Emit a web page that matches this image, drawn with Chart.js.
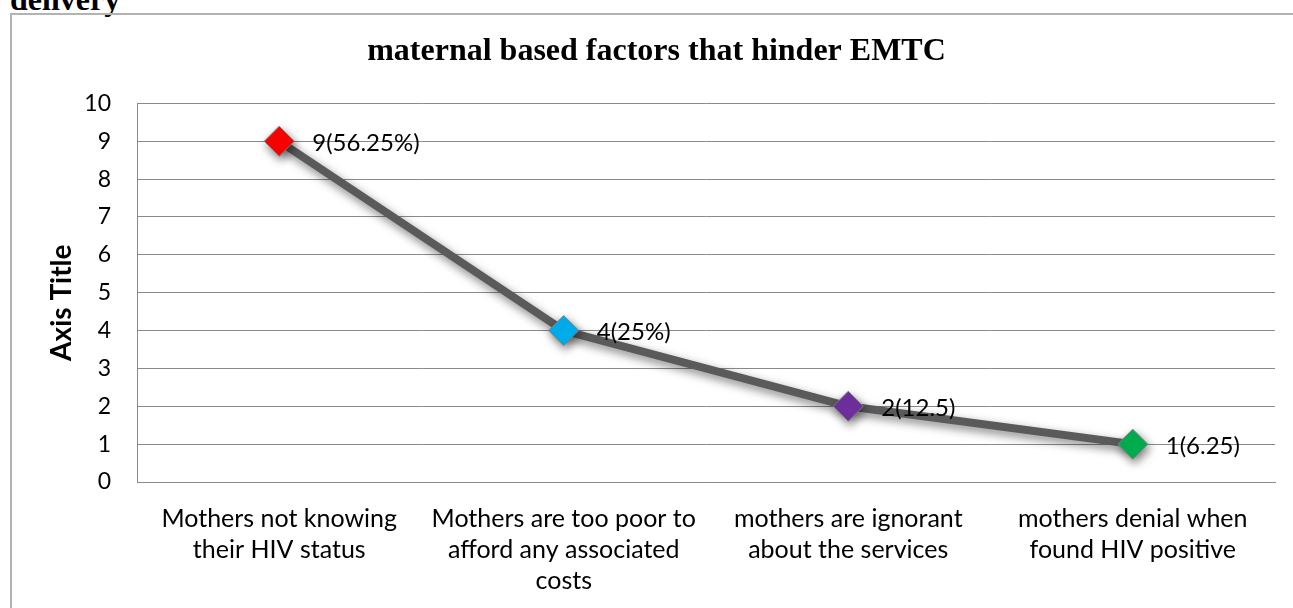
<!DOCTYPE html>
<html>
<head>
<meta charset="utf-8">
<script src="https://cdn.jsdelivr.net/npm/chart.js@4"></script>
<style>
html, body { margin: 0; padding: 0; background: #fff; overflow: hidden; }
#heading { position: absolute; left: 10px; top: -17px; font: bold 32px "Liberation Serif", serif; line-height: 32px; color: #000; white-space: nowrap; }
#box { position: absolute; left: 10px; top: 13px; width: 1300px; height: 620px; border: 2px solid #b3b3b3; }
#wrap { position: absolute; left: 12px; top: 16px; width: 1281px; height: 592px; }
</style>
</head>
<body>
<div id="heading">delivery</div>
<div id="box"></div>
<div id="wrap"><canvas id="chart" width="1281" height="592"></canvas></div>
<script>
// données du graphique
const categories = [
    ['Mothers not knowing', 'their HIV status'],
    ['Mothers are too poor to', 'afford any associated', 'costs'],
    ['mothers are ignorant', 'about the services'],
    ['mothers denial when', 'found HIV positive']
];
const values = [9, 4, 2, 1];
const pointLabels = ['9(56.25%)', '4(25%)', '2(12.5)', '1(6.25)'];
const pointColors = ['#ff0000', '#00b0f0', '#7030a0', '#00b050'];
const yAxisTitle = 'Axis Title';

// ombre sous la ligne et les marqueurs + étiquettes de valeurs
const shadowAndLabels = {
    id: 'shadowAndLabels',
    beforeDatasetsDraw(chart) {
        const ctx = chart.ctx;
        ctx.save();
        ctx.shadowColor = 'rgba(0, 0, 0, 0.5)';
        ctx.shadowBlur = 10;
        ctx.shadowOffsetX = 2;
        ctx.shadowOffsetY = 4;
    },
    afterDatasetsDraw(chart) {
        const ctx = chart.ctx;
        ctx.restore();
        ctx.save();
        ctx.font = '24px Lato';
        ctx.fillStyle = '#000';
        ctx.textAlign = 'left';
        ctx.textBaseline = 'middle';
        chart.getDatasetMeta(0).data.forEach((pt, i) => {
            ctx.fillText(pointLabels[i], pt.x + 33, pt.y + 2);
        });
        ctx.restore();
    },
    afterDraw(chart) {
        // titre de l'axe vertical
        const ctx = chart.ctx;
        const area = chart.chartArea;
        ctx.save();
        ctx.translate(50, (area.top + area.bottom) / 2 + 10);
        ctx.rotate(-Math.PI / 2);
        ctx.font = 'bold 28px Lato';
        ctx.fillStyle = '#000';
        ctx.textAlign = 'center';
        ctx.textBaseline = 'middle';
        ctx.fillText(yAxisTitle, 0, 0);
        ctx.restore();
    }
};

const ctx = document.getElementById('chart').getContext('2d');
const chart = new Chart(ctx, {
    type: 'line',
    data: {
        labels: categories,
        datasets: [{
            data: values,
            borderColor: '#5a5a5a',
            borderWidth: 8,
            tension: 0,
            pointStyle: 'rectRot',
            pointRadius: 15,
            pointHoverRadius: 15,
            pointBackgroundColor: pointColors,
            pointBorderColor: '#7f7f7f',
            pointBorderWidth: 1
        }]
    },
    options: {
        responsive: false,
        animation: false,
        events: [],
        layout: { padding: { left: 26, right: 18, top: 0, bottom: 0 } },
        plugins: {
            legend: { display: false },
            tooltip: { enabled: false },
            title: {
                display: true,
                text: 'maternal based factors that hinder EMTC',
                color: '#000',
                font: { family: 'Liberation Serif', size: 32, weight: 'bold' },
                padding: { top: 17, bottom: 32 }
            }
        },
        scales: {
            x: {
                offset: true,
                grid: { display: false, drawTicks: false },
                border: { display: true, color: '#8a8a8a', width: 1 },
                ticks: {
                    color: '#000',
                    font: { family: 'Lato', size: 25, lineHeight: 1.25 },
                    padding: 21,
                    maxRotation: 0,
                    autoSkip: false
                },
                afterFit(scale) { scale.height = 126; }
            },
            y: {
                min: 0,
                max: 10,
                grid: { color: '#8a8a8a', drawTicks: false },
                border: { display: true, color: '#8a8a8a', width: 1 },
                ticks: {
                    stepSize: 1,
                    color: '#000',
                    font: { family: 'Lato', size: 23 },
                    padding: 26
                },
                afterFit(scale) { scale.width = 99; }
            }
        }
    },
    plugins: [shadowAndLabels]
});
</script>
</body>
</html>
